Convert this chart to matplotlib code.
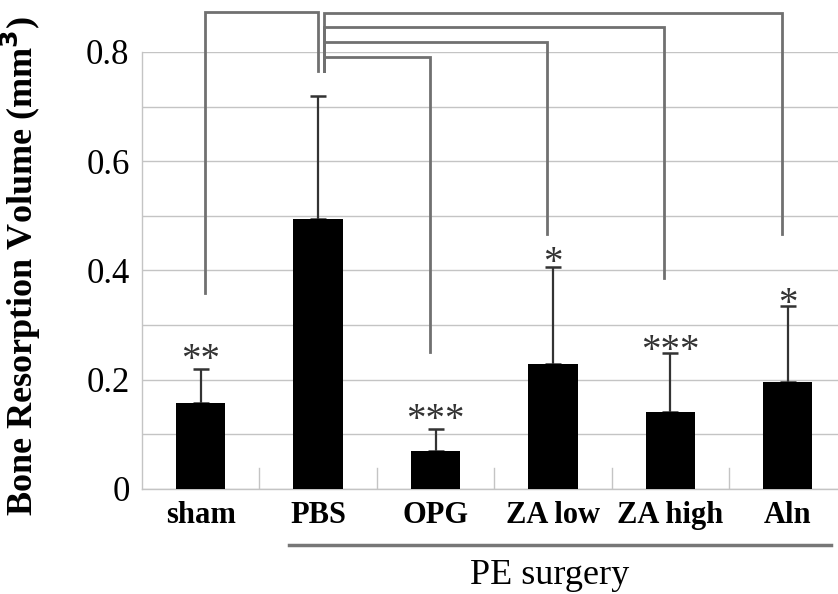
import matplotlib
matplotlib.use("Agg")
import matplotlib.pyplot as plt

categories = ["sham", "PBS", "OPG", "ZA low", "ZA high", "Aln"]
means = [0.157, 0.494, 0.070, 0.229, 0.141, 0.196]
errors = [0.063, 0.226, 0.040, 0.178, 0.108, 0.139]
stars = ["**", "", "***", "*", "***", "*"]
star_y = [0.26, None, 0.150, 0.438, 0.277, 0.362]

# brackets: (x_from, x_to, top_y, from_bottom, to_bottom)
brackets = [
    (0, 1, 0.874, 0.359, 0.766),
    (1, 5, 0.872, 0.766, 0.467),
    (1, 4, 0.846, 0.766, 0.386),
    (1, 3, 0.819, 0.766, 0.467),
    (1, 2, 0.791, 0.766, 0.251),
]

yticks = [0, 0.2, 0.4, 0.6, 0.8]
ytick_labels = ["0", "0.2", "0.4", "0.6", "0.8"]

serif = ["Liberation Serif", "DejaVu Serif"]
plt.rcParams["font.family"] = serif

fig = plt.figure(figsize=(8.38, 5.94), dpi=100)
ax = fig.add_axes([0.1695, 0.1768, 0.8405, 0.7357])

x = list(range(len(categories)))
ax.bar(x, means, width=0.42, color="black", zorder=3)
ax.errorbar(x, means, yerr=[[0] * len(errors), errors], fmt="none",
            ecolor="#333333", elinewidth=1.6, capsize=6, capthick=1.8, zorder=2)

for xi, s, sy in zip(x, stars, star_y):
    if s:
        ax.text(xi, sy - 0.042, s, ha="center", va="baseline", fontsize=28,
                color="#333333")

gray = "#707070"
for a, b, top, ba, bb in brackets:
    xa = a + (0.04 if a == 0 else 0.05)
    xb = b - 0.05 if b > 1 else b
    ax.plot([xa, xa, xb, xb], [ba, top, top, bb], color=gray, lw=2,
            clip_on=False, solid_joinstyle="miter", zorder=4)

ax.set_xlim(-0.5, 5.5)
ax.set_ylim(0, 0.8)
ax.set_yticks(yticks)
ax.set_yticklabels(ytick_labels, fontsize=25)
ax.set_yticks([0.1, 0.3, 0.5, 0.7], minor=True)
ax.yaxis.grid(True, which="both", color="#c4c4c4", lw=1, zorder=0)
ax.tick_params(axis="y", which="both", length=0, pad=9)
ax.set_xticks(x)
ax.set_xticklabels(categories, fontsize=22, fontweight="bold")
ax.tick_params(axis="x", length=0, pad=9)
for b in [0.5, 1.5, 2.5, 3.5, 4.5]:
    ax.plot([b, b], [0, 0.038], color="#c4c4c4", lw=1, zorder=1)
for side in ["top", "right"]:
    ax.spines[side].set_visible(False)
for side in ["left", "bottom"]:
    ax.spines[side].set_color("#c4c4c4")
    ax.spines[side].set_linewidth(1)

ax.set_ylabel("Bone Resorption Volume (mm$^\\mathbf{3}$)", fontsize=26,
              fontweight="bold")
ax.yaxis.set_label_coords(-0.14, 0.51)

# PE surgery group line
ax.plot([0.75, 5.37], [-0.1026, -0.1026], color="#777777", lw=2.5, clip_on=False)
ax.text(2.97, -0.158, "PE surgery", ha="center", va="center", fontsize=26)

fig.savefig("out.png", dpi=100)
